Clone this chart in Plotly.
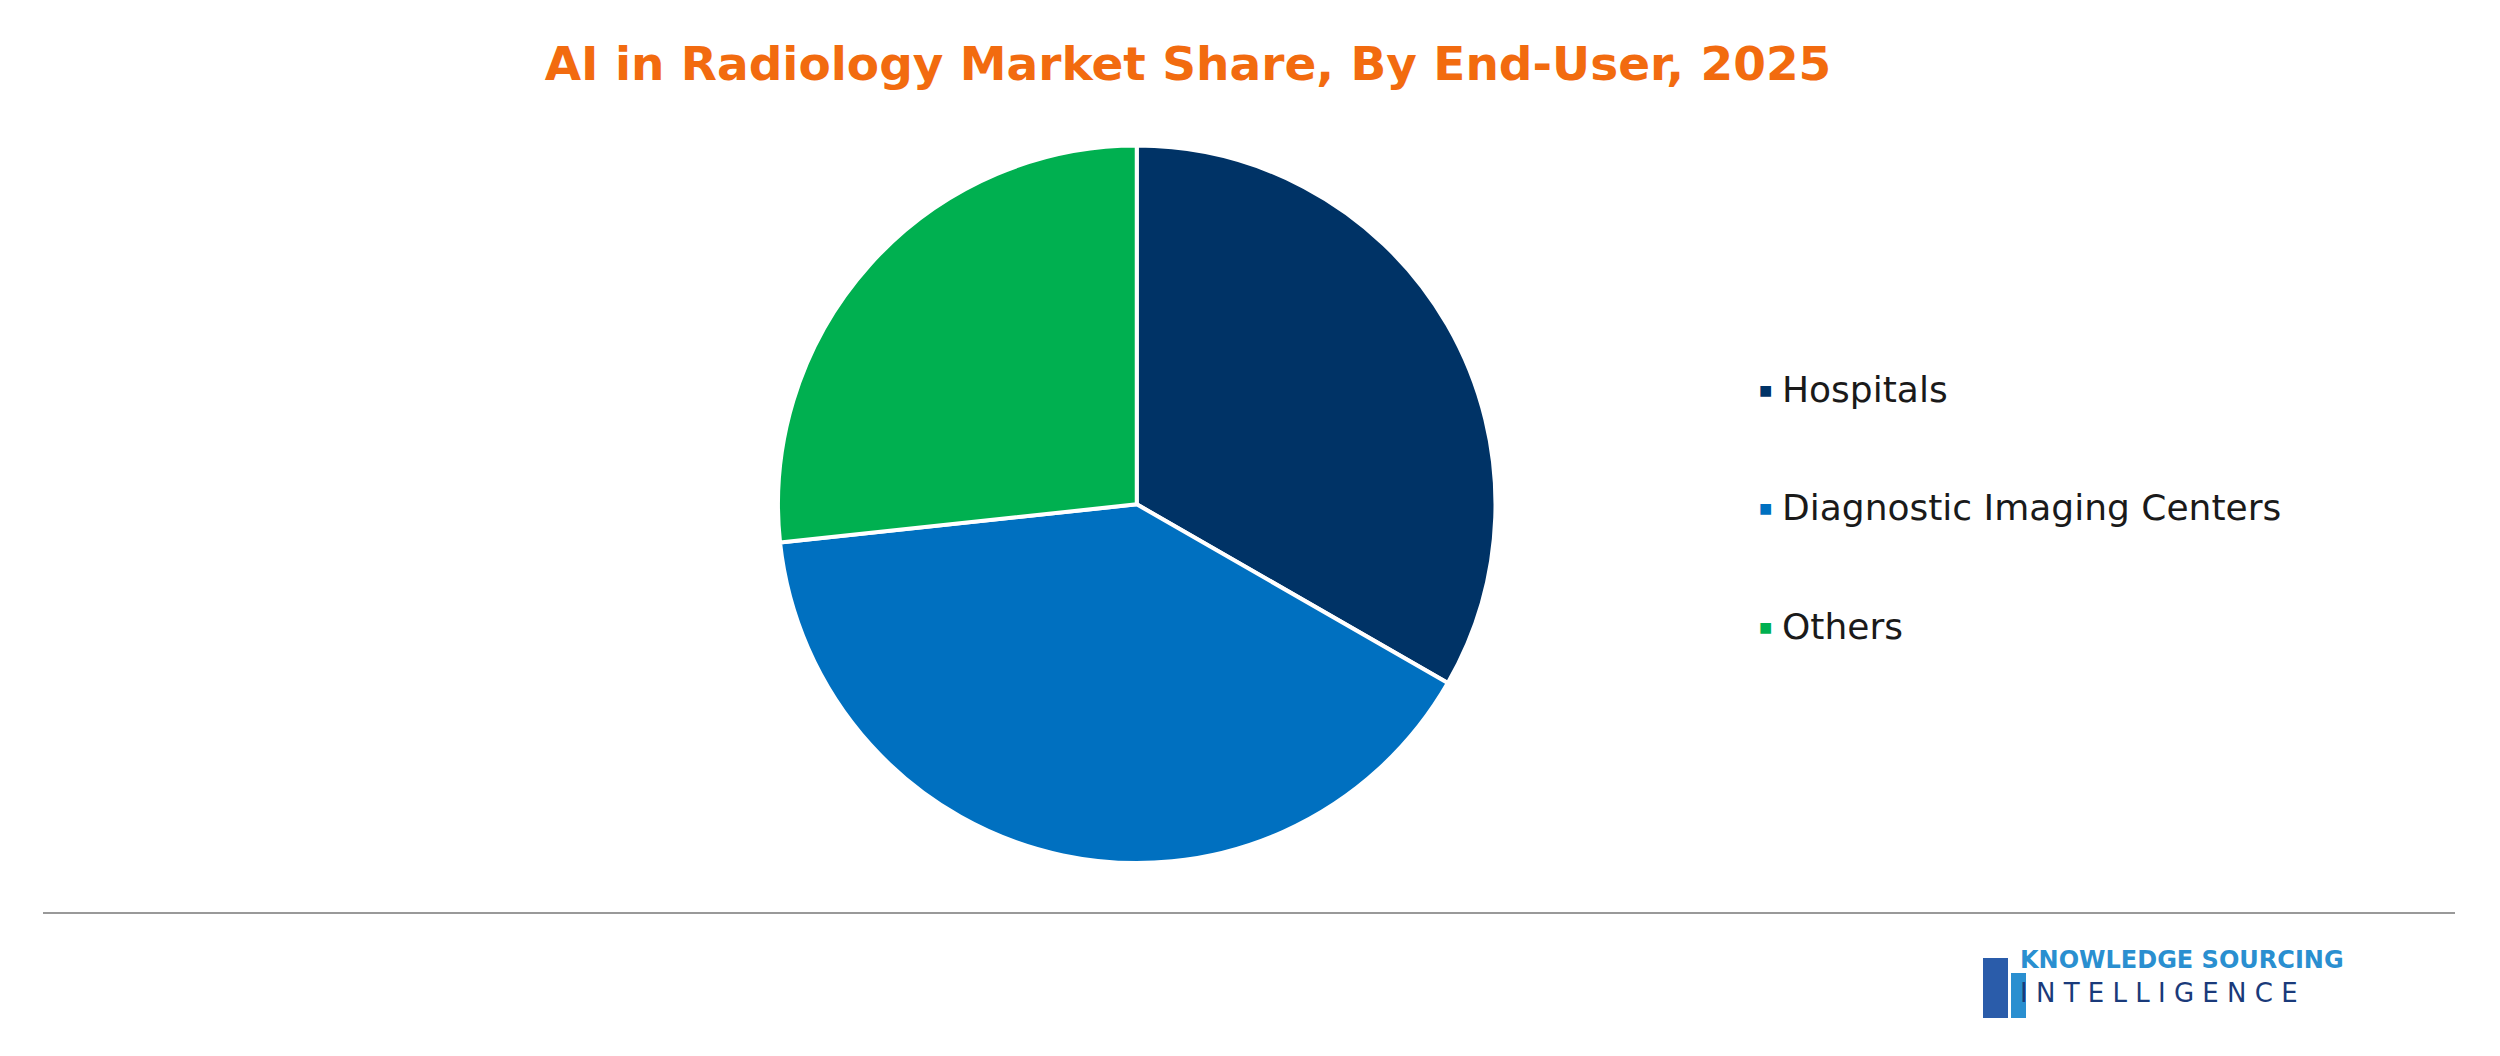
import plotly.graph_objects as go

labels = ["Hospitals", "Diagnostic Imaging Centers", "Others"]
shares = [33.3, 40.0, 26.7]
colors = ["#003366", "#0070C0", "#00B050"]

W, H = 2500, 1056

fig = go.Figure(go.Pie(
    labels=labels, values=shares, sort=False, direction="clockwise", rotation=0,
    marker=dict(colors=colors, line=dict(color="white", width=4)),
    textinfo="none", hoverinfo="label+percent", showlegend=False,
    domain=dict(x=[0.308, 0.595], y=[0.19, 0.87]),
))

# legend drawn as annotations (wide spacing)
leg_y = [381, 499, 618]
for lab, col, yy in zip(labels, colors, leg_y):
    fig.add_annotation(x=1757 / W, y=1 - yy / H, xref="paper", yref="paper", text="■",
                       showarrow=False, font=dict(size=22, color=col), xanchor="center")
    fig.add_annotation(x=1772 / W, y=1 - yy / H, xref="paper", yref="paper", text=lab,
                       showarrow=False, font=dict(size=36, color="#1a1a1a", family="DejaVu Sans"),
                       xanchor="left")

fig.add_shape(type="line", xref="paper", yref="paper", x0=35 / W, x1=2447 / W,
              y0=1 - 905 / H, y1=1 - 905 / H, line=dict(color="#999999", width=2))

# logo text
fig.add_annotation(x=2010 / W, y=1 - 968 / H, xref="paper", yref="paper",
                   text="<b>KNOWLEDGE SOURCING</b>", showarrow=False, xanchor="left",
                   font=dict(size=24, color="#2a8fd0", family="DejaVu Sans"))
fig.add_annotation(x=2010 / W, y=1 - 1002 / H, xref="paper", yref="paper",
                   text="I N T E L L I G E N C E", showarrow=False, xanchor="left",
                   font=dict(size=26, color="#1a3a7a", family="DejaVu Sans"))
fig.add_shape(type="rect", xref="paper", yref="paper", x0=1975 / W, x1=2000 / W,
              y0=1 - 1010 / H, y1=1 - 950 / H, fillcolor="#2a5caa", line=dict(width=0))
fig.add_shape(type="rect", xref="paper", yref="paper", x0=2003 / W, x1=2018 / W,
              y0=1 - 1010 / H, y1=1 - 965 / H, fillcolor="#2a8fd0", line=dict(width=0))

fig.update_layout(
    width=W, height=H, margin=dict(l=0, r=0, t=0, b=0),
    paper_bgcolor="white", plot_bgcolor="white",
    title=dict(text="<b>AI in Radiology Market Share, By End-User, 2025</b>",
               x=1180 / W, xanchor="center", y=1 - 56 / H, yanchor="middle",
               font=dict(size=47, color="#F26B0F", family="DejaVu Sans")),
)

fig.write_html("out.html")
